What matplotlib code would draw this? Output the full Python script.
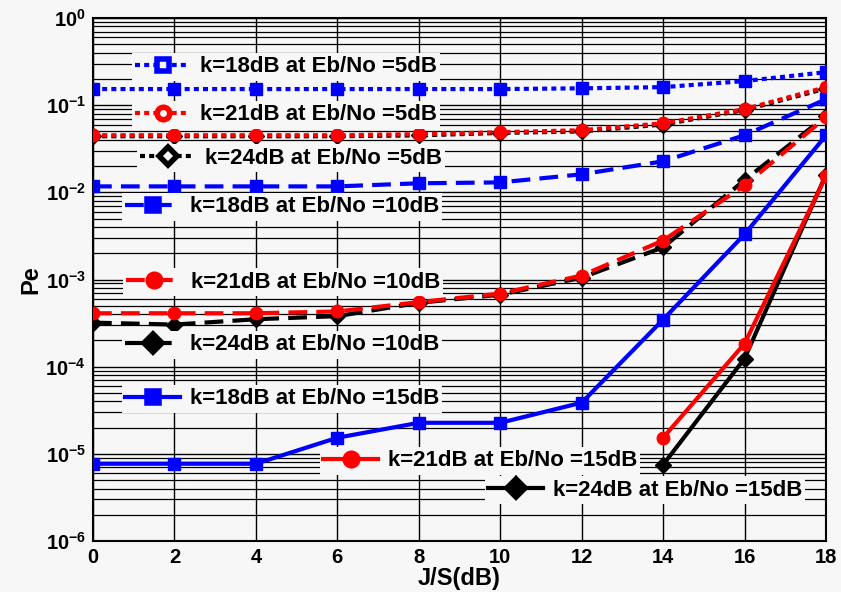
import numpy as np
import matplotlib.pyplot as plt
from matplotlib.ticker import LogLocator, NullFormatter, FixedLocator
from matplotlib.lines import Line2D

plt.rcParams['font.family'] = ['Liberation Sans', 'DejaVu Sans']
plt.rcParams['font.weight'] = 'bold'

# J/S values (dB)
js = [0, 2, 4, 6, 8, 10, 12, 14, 16, 18]
js_hi = [14, 16, 18]

# Eb/No = 5 dB
pe_k18_5 = [0.153, 0.153, 0.153, 0.153, 0.153, 0.153, 0.156, 0.161, 0.189, 0.239]
pe_k21_5 = [0.0452, 0.0452, 0.0452, 0.0452, 0.0465, 0.049, 0.0516, 0.062, 0.090, 0.161]
pe_k24_5 = [0.044, 0.044, 0.044, 0.044, 0.045, 0.048, 0.050, 0.060, 0.088, 0.155]

# Eb/No = 10 dB
pe_k18_10 = [0.0117, 0.0117, 0.0117, 0.0117, 0.0127, 0.0130, 0.0161, 0.0227, 0.0452, 0.117]
pe_k21_10 = [4.1e-4, 4.1e-4, 4.1e-4, 4.3e-4, 5.5e-4, 6.9e-4, 1.11e-3, 2.8e-3, 0.0120, 0.0728]
pe_k24_10 = [3.2e-4, 3.04e-4, 3.5e-4, 3.8e-4, 5.4e-4, 6.7e-4, 1.05e-3, 2.34e-3, 0.0138, 0.075]

# Eb/No = 15 dB
pe_k18_15 = [7.7e-6, 7.7e-6, 7.7e-6, 1.53e-5, 2.27e-5, 2.27e-5, 3.86e-5, 3.47e-4, 3.3e-3, 0.045]
pe_k21_15 = [1.53e-5, 1.84e-4, 0.0153]
pe_k24_15 = [7.5e-6, 1.24e-4, 0.016]

pe_ticks = [1e-6, 1e-5, 1e-4, 1e-3, 1e-2, 1e-1, 1]

labels = [
    "k=18dB at Eb/No =5dB", "k=21dB at Eb/No =5dB", "k=24dB at Eb/No =5dB",
    "k=18dB at Eb/No =10dB", "k=21dB at Eb/No =10dB", "k=24dB at Eb/No =10dB",
    "k=18dB at Eb/No =15dB", "k=21dB at Eb/No =15dB", "k=24dB at Eb/No =15dB",
]

W, H = 841, 592
bg = '#f7f7f7'
dot = (0, (1.2, 1.0))
dash = (0, (4.5, 2.2))
lw = 3.0
ms = 9

fig = plt.figure(figsize=(W / 100, H / 100), dpi=100, facecolor=bg)
ax = fig.add_axes([93 / W, (H - 541) / H, (826 - 93) / W, (541 - 18) / H])
ax.set_facecolor(bg)

# (x, y, color, linestyle, marker) in drawing order
series = [
    (js, pe_k18_5, 'blue', dot, 's'),
    (js, pe_k24_5, 'black', dot, 'D'),
    (js, pe_k21_5, 'red', dot, 'o'),
    (js, pe_k18_10, 'blue', dash, 's'),
    (js, pe_k24_10, 'black', dash, 'D'),
    (js, pe_k21_10, 'red', dash, 'o'),
    (js, pe_k18_15, 'blue', '-', 's'),
    (js_hi, pe_k24_15, 'black', '-', 'D'),
    (js_hi, pe_k21_15, 'red', '-', 'o'),
]
for x, y, c, ls, m in series:
    ax.plot(x, y, color=c, linestyle=ls, marker=m, lw=lw, ms=ms if m != 'D' else ms - 1,
            markeredgecolor=c, markerfacecolor=c, zorder=3)

ax.set_yscale('log')
ax.set_xlim(0, 18)
ax.set_ylim(1e-6, 1)
ax.xaxis.set_major_locator(FixedLocator(js))
ax.set_yticks(pe_ticks)
ax.yaxis.set_minor_locator(LogLocator(base=10, subs=np.arange(2, 10), numticks=20))
ax.yaxis.set_minor_formatter(NullFormatter())
ax.grid(True, which='major', color='black', lw=1.0)
ax.grid(True, which='minor', axis='y', color='black', lw=0.9)
ax.tick_params(which='both', length=0, labelsize=14.5, pad=5)
for sp in ax.spines.values():
    sp.set_linewidth(1.5)
ax.set_xlabel('J/S(dB)', fontsize=17, fontweight='bold', labelpad=0)
ax.set_ylabel('Pe', fontsize=17, fontweight='bold', labelpad=2)

# separate legend boxes scattered over the plot (handle start x, centre y in pixels)
legend_pos = [(135, 67), (135, 115), (140, 158), (125, 207), (126, 282),
              (125, 345), (125, 399), (323, 461), (488, 490)]
legend_style = [('blue', dot, 's'), ('red', dot, 'o'), ('black', dot, 'D'),
                ('blue', dash, 's'), ('red', dash, 'o'), ('black', dash, 'D'),
                ('blue', '-', 's'), ('red', '-', 'o'), ('black', '-', 'D')]
fs_leg = 16
for lab, (px, py), (c, ls, m) in zip(labels, legend_pos, legend_style):
    h = Line2D([], [], color=c, linestyle=ls, marker=m, lw=lw, ms=ms,
               markerfacecolor=c if ls != dot else bg, markeredgecolor=c, markeredgewidth=4)
    leg = ax.legend([h], [lab], loc='center left', bbox_to_anchor=((px - 3) / W, 1 - py / H),
                    bbox_transform=fig.transFigure, frameon=True, facecolor=bg, edgecolor='none',
                    framealpha=1, fancybox=False, borderpad=0.15, borderaxespad=0,
                    handlelength=2.45, handletextpad=0.45,
                    prop={'size': fs_leg, 'weight': 'bold'})
    leg.set_zorder(4)
    ax.add_artist(leg)

fig.savefig('out.png', dpi=100, facecolor=bg)
